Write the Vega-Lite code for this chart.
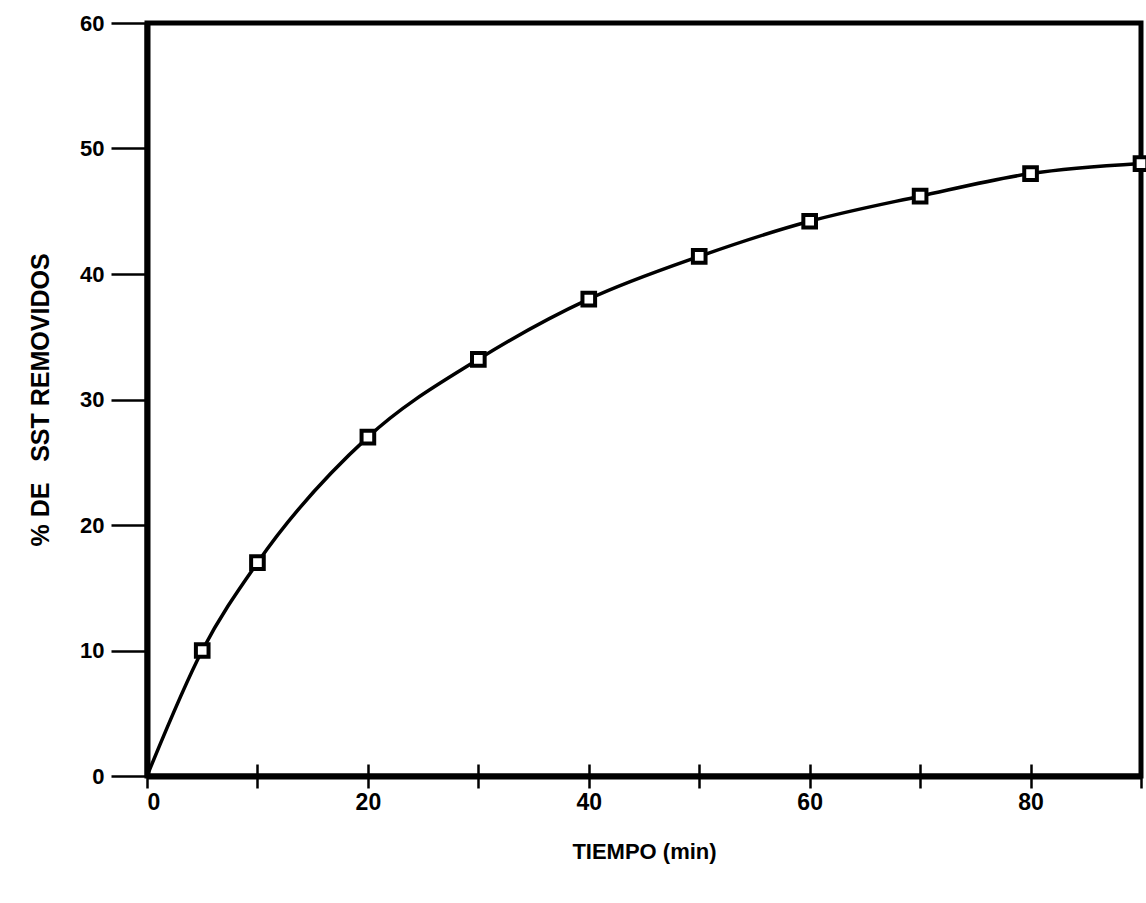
{
  "$schema": "https://vega.github.io/schema/vega-lite/v6.json",
  "width": 994,
  "height": 753,
  "autosize": {"type": "none"},
  "padding": {"left": 147, "top": 23, "right": 5, "bottom": 127},
  "background": "white",
  "config": {
    "view": {"stroke": "black", "strokeWidth": 5},
    "axis": {
      "labelFont": "Liberation Sans, Arial",
      "titleFont": "Liberation Sans, Arial",
      "labelFontWeight": "bold",
      "titleFontWeight": "bold",
      "labelColor": "black",
      "titleColor": "black",
      "domainColor": "black",
      "tickColor": "black",
      "grid": false
    }
  },
  "data": {
    "values": [
      {"t": 0, "pct": 0, "obs": false},
      {"t": 5, "pct": 10, "obs": true},
      {"t": 10, "pct": 17, "obs": true},
      {"t": 20, "pct": 27, "obs": true},
      {"t": 30, "pct": 33.2, "obs": true},
      {"t": 40, "pct": 38, "obs": true},
      {"t": 50, "pct": 41.4, "obs": true},
      {"t": 60, "pct": 44.2, "obs": true},
      {"t": 70, "pct": 46.2, "obs": true},
      {"t": 80, "pct": 48, "obs": true},
      {"t": 90, "pct": 48.8, "obs": true}
    ]
  },
  "layer": [
    {
      "mark": {"type": "line", "interpolate": "monotone", "color": "black", "strokeWidth": 3.5},
      "encoding": {
        "x": {
          "field": "t", "type": "quantitative",
          "scale": {"domain": [0, 90], "nice": false, "zero": true},
          "axis": {
            "orient": "bottom",
            "values": [0, 10, 20, 30, 40, 50, 60, 70, 80, 90],
            "labelExpr": "datum.value % 20 == 0 && datum.value < 90 ? datum.label : ''",
            "tickSize": 12, "tickWidth": 2.5,
            "domainWidth": 6,
            "labelFontSize": 23, "labelPadding": 3,
            "title": "TIEMPO (min)", "titleFontSize": 22, "titlePadding": 27
          }
        },
        "y": {
          "field": "pct", "type": "quantitative",
          "scale": {"domain": [0, 60], "nice": false},
          "axis": {
            "values": [0, 10, 20, 30, 40, 50, 60],
            "tickSize": 36, "tickWidth": 2.5,
            "domainWidth": 6,
            "labelFontSize": 22, "labelPadding": 7,
            "title": "% DE\u00a0\u00a0 SST REMOVIDOS", "titleFontSize": 25, "titlePadding": 26
          }
        }
      }
    },
    {
      "transform": [{"filter": "datum.obs"}],
      "mark": {"type": "point", "shape": "square", "filled": false, "fill": "white", "stroke": "black", "strokeWidth": 4, "size": 160, "opacity": 1},
      "encoding": {
        "x": {
          "field": "t", "type": "quantitative",
          "scale": {"domain": [0, 90], "nice": false},
          "axis": {
            "orient": "bottom",
            "values": [10, 20, 30, 40, 50, 60, 70, 80, 90],
            "tickSize": -12, "tickWidth": 2.5,
            "labels": false, "domain": false, "title": null
          }
        },
        "y": {"field": "pct", "type": "quantitative", "scale": {"domain": [0, 60], "nice": false}}
      }
    }
  ],
  "resolve": {"axis": {"x": "independent"}}
}
